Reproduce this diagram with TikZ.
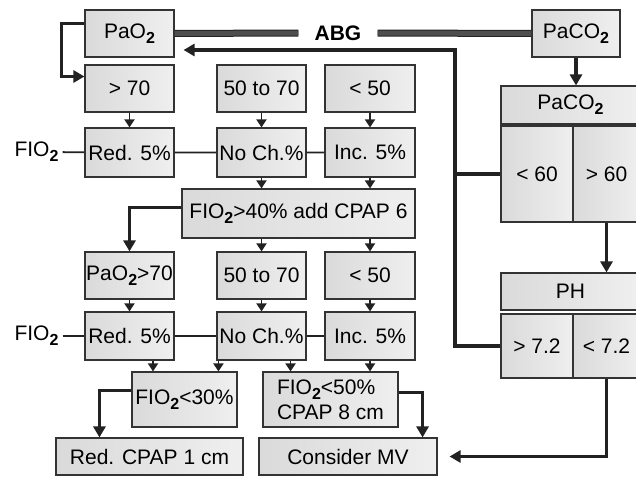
\documentclass[tikz,border=0pt]{standalone}
\usepackage{fontspec}
\setmainfont{Liberation Sans}
\definecolor{boxline}{HTML}{333333}
\definecolor{boxdark}{HTML}{DADADA}
\definecolor{boxlite}{HTML}{EFEFEF}
\definecolor{wire}{HTML}{222222}
\definecolor{bargray}{HTML}{4E4E4E}
\usetikzlibrary{arrows.meta,positioning,calc}
\newcommand{\two}{\raisebox{-5pt}{\fontsize{16}{16}\selectfont\bfseries 2}}

\begin{document}
\begin{tikzpicture}[x=1pt, y=-1pt,
  box/.style={rectangle, draw=boxline, left color=boxdark, right color=boxlite, line width=1.1pt, inner sep=0pt, align=center, font=\fontsize{21}{25}\selectfont},
  std/.style={box, minimum width=89pt, minimum height=47pt},
  tall/.style={std, minimum height=49pt},
  lbl/.style={inner sep=0pt, inner xsep=4pt, font=\fontsize{21}{25}\selectfont},
  arr/.style={draw=wire, line width=1.8pt, -{Triangle[length=8pt,width=10pt]}},
  link/.style={draw=wire, line width=1.8pt},
  heavy/.style={draw=wire, line width=3.2pt},
  heavyarr/.style={heavy, -{Triangle[length=11pt,width=12pt]}},
  bar/.style={draw=wire, line width=1pt, double=bargray, double distance=5pt}]
\useasboundingbox (0,0) rectangle (636,476);
% top line
\node[std] (pao2) at (129.5,33.5) {PaO\two};
\node[lbl, inner xsep=16pt, font=\bfseries\fontsize{21}{25}\selectfont] (abg) at (338,33) {ABG};
\node[std, minimum width=88pt] (paco2) at (576,33.5) {PaCO\two};
\draw[bar] (pao2) -- (abg);
\draw[bar] (abg) -- (paco2);
% first round
\node[std] (gt70) at (129.5,88.5) {> 70};
\node[std] (mid1) at (261.5,88.5) {50 to 70};
\node[std, minimum width=90pt] (lt50) at (370,88.5) {< 50};
\node[tall] (red1) at (129.5,152.5) {Red. 5\%};
\node[tall] (noch1) at (261.5,152.5) {No Ch.\%};
\node[tall, minimum width=90pt] (inc1) at (370,152.5) {Inc. 5\%};
\node[lbl] (fio1) at (36.5,152) {FIO\two};
\node[box, minimum width=233pt, minimum height=49pt] (add6) at (298.5,213.5) {FIO\two>40\% add CPAP 6};
% second round
\node[std] (pao70) at (129.5,275.5) {PaO\two>70};
\node[std] (mid2) at (261.5,275.5) {50 to 70};
\node[std, minimum width=90pt] (lt50b) at (370,275.5) {< 50};
\node[std, minimum height=48pt] (red2) at (129.5,336) {Red. 5\%};
\node[std, minimum height=48pt] (noch2) at (261.5,336) {No Ch.\%};
\node[std, minimum height=48pt, minimum width=90pt] (inc2) at (370,336) {Inc. 5\%};
\node[lbl] (fio2) at (36.5,336) {FIO\two};
\node[box, minimum width=105pt, minimum height=55pt] (fio30) at (184.5,399.5) {FIO\two<30\%};
\node[box, minimum width=135pt, minimum height=55pt, align=left, font=\fontsize{21}{23}\selectfont] (cpap8) at (330.5,399.5) {FIO\two<50\%\\[2pt]CPAP 8 cm};
\node[box, minimum width=187pt, minimum height=37pt] (redcpap) at (149.5,456.5) {Red. CPAP 1 cm};
\node[box, minimum width=178pt, minimum height=37pt] (mv) at (348,456.5) {Consider MV};
% right column
\node[box, minimum width=139pt, minimum height=38pt] (hdr1) at (570.5,105) {PaCO\two};
\node[box, minimum width=72pt, minimum height=96pt] (lt60) at (537,174) {< 60};
\node[box, minimum width=67pt, minimum height=96pt] (gt60) at (606.5,174) {> 60};
\node[box, minimum width=139pt, minimum height=37pt] (ph) at (570.5,291.5) {PH};
\node[box, minimum width=72pt, minimum height=64pt] (gt72) at (537,346) {> 7.2};
\node[box, minimum width=67pt, minimum height=64pt] (lt72) at (606.5,346) {< 7.2};
\coordinate (jn) at (455,50);
% connectors
\draw[heavyarr] ([yshift=10pt]pao2.west) -- ++(-23,0) |- ([yshift=12pt]gt70.west);
\draw[arr] (gt70) -- (red1);
\draw[arr] (mid1) -- (noch1);
\draw[arr] (lt50) -- (inc1);
\draw[link] (fio1) -- (red1) -- (noch1) -- (inc1);
\draw[arr] (noch1) -- (noch1 |- add6.north);
\draw[arr] (inc1) -- (inc1 |- add6.north);
\draw[arr] (mid2 |- add6.south) -- (mid2);
\draw[arr] (lt50b |- add6.south) -- (lt50b);
\draw[heavyarr] ([yshift=6pt]add6.west) -| (pao70.north);
\draw[arr] (pao70) -- (red2);
\draw[arr] (mid2) -- (noch2);
\draw[arr] (lt50b) -- (inc2);
\draw[link] (fio2) -- (red2) -- (noch2) -- (inc2);
\draw[arr] ([xshift=23.5pt]red2.south) -- ([xshift=23.5pt]red2.south |- fio30.north);
\draw[arr] ([xshift=2pt]noch2.south west) -- ([xshift=2pt]noch2.south west |- fio30.north);
\draw[arr] ([xshift=-16pt]noch2.south east) -- ([xshift=-16pt]noch2.south east |- cpap8.north);
\draw[arr] (inc2.south) -- (inc2 |- cpap8.north);
\draw[heavyarr] ([yshift=9pt]fio30.west) -| ([xshift=44pt]redcpap.north west);
\draw[heavyarr] ([yshift=7pt]cpap8.east) -| ([xshift=-15pt]mv.north east);
\draw[heavyarr] (paco2) -- (paco2 |- hdr1.north);
\draw[heavyarr] (gt60.south) -- (gt60.south |- ph.north);
\draw[heavyarr, shorten >=12pt] (lt72.south) |- (mv.east);
\draw[heavyarr, shorten >=9pt] (gt72.west) -| (jn) -- (jn -| pao2.east);
\draw[heavy] (lt60.west) -- (lt60.west -| jn);
\end{tikzpicture}
\end{document}
